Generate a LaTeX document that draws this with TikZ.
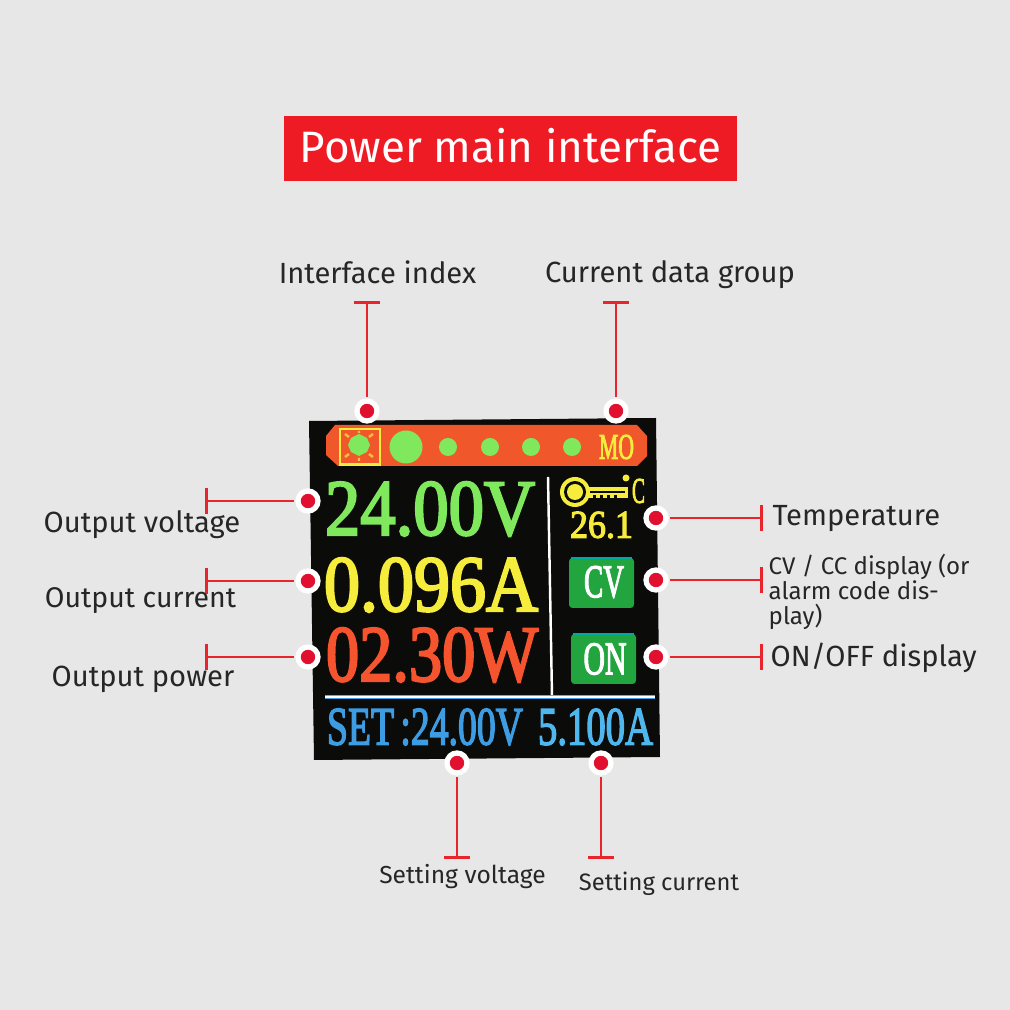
\documentclass[tikz,border=0pt]{standalone}
\usepackage{fontspec}
\usepackage{graphicx}
\setmainfont{Fira Sans}
\newfontfamily\lcdfont{Liberation Serif}[FakeBold=3]
\definecolor{pagegray}{HTML}{E6E7E6}
\definecolor{titlered}{HTML}{EE1B24}
\definecolor{dotred}{HTML}{E0102E}
\definecolor{linered}{HTML}{E8252C}
\definecolor{lcdblack}{HTML}{0B0B09}
\definecolor{barorange}{HTML}{F0582C}
\definecolor{lcdgreen}{HTML}{80E85C}
\definecolor{lcdyellow}{HTML}{F6EC3C}
\definecolor{lcdred}{HTML}{F5542E}
\definecolor{lcdblue}{HTML}{3E9CE2}
\definecolor{lcdsky}{HTML}{50B6EE}
\definecolor{btngreen}{HTML}{22A53E}
\newcommand{\lcd}[3]{\resizebox{#1cm}{#2cm}{\lcdfont #3}}
\tikzset{
  dot/.style={circle,fill=dotred,draw=white,line width=1.5pt,minimum size=0.2cm,inner sep=0pt},
  lead/.style={linered,line width=0.8pt,-|,shorten <=0.5pt},
  lbl/.style={inner sep=0pt,text=black!85,font=\fontsize{8.3}{8.3}\selectfont},
  lcdtxt/.style={inner sep=0pt}
}
\begin{document}
\begin{tikzpicture}
\useasboundingbox (0,0) rectangle (10.1,10.1);
\fill[pagegray] (0,0) rectangle (10.1,10.1);
% Titel
\fill[titlered] (2.84,8.29) rectangle (7.37,8.94);
\node (title) at (5.105,8.64) [inner sep=0pt,text=white,font=\fontsize{12.5}{14}\selectfont] {Power main interface};
% Bildschirm
\fill[lcdblack] (3.09,5.89) -- (6.56,5.92) -- (6.60,2.53) -- (3.14,2.50) -- cycle;
% Kopfleiste
\fill[barorange] (3.26,5.74) -- (3.35,5.85) -- (6.37,5.85) -- (6.47,5.74) -- (6.47,5.54) -- (6.37,5.44) -- (3.38,5.44) -- (3.26,5.55) -- cycle;
\fill[lcdyellow] (3.39,5.82) rectangle (3.81,5.44);
\fill[barorange] (3.41,5.80) rectangle (3.79,5.47);
\fill[lcdgreen] (3.59,5.76) -- (3.67,5.72) -- (3.70,5.65) -- (3.67,5.58) -- (3.59,5.54) -- (3.51,5.58) -- (3.48,5.65) -- (3.51,5.72) -- cycle;
\draw[lcdyellow!70!barorange,line width=0.7pt] (3.59,5.79) -- (3.59,5.77) (3.59,5.52) -- (3.59,5.49) (3.45,5.76) -- (3.49,5.73) (3.73,5.76) -- (3.69,5.73) (3.45,5.53) -- (3.49,5.56) (3.73,5.53) -- (3.69,5.56);
\fill[lcdgreen] (4.06,5.63) circle (0.165);
\foreach \x in {4.48,4.90,5.31,5.72}
  \fill[lcdgreen] (\x,5.63) circle (0.09);
\node (mo) at (6.165,5.63) [lcdtxt,text=lcdyellow] {\lcd{0.35}{0.24}{MO}};
% Messwerte
\node (volt) at (4.30,5.01) [lcdtxt,text=lcdgreen] {\lcd{2.10}{0.53}{24.00V}};
\node (amp) at (4.31,4.25) [lcdtxt,text=lcdyellow] {\lcd{2.14}{0.53}{0.096A}};
\node (watt) at (4.32,3.55) [lcdtxt,text=lcdred] {\lcd{2.12}{0.53}{02.30W}};
\node (setv) at (4.25,2.83) [lcdtxt,text=lcdblue] {\lcd{1.96}{0.36}{SET\,:24.00V}};
\node (seta) at (5.955,2.83) [lcdtxt,text=lcdsky] {\lcd{1.15}{0.36}{5.100A}};
% Trennlinien
\draw[white,line width=0.7pt] (5.48,5.33) -- (5.52,3.14);
\draw[orange,line width=0.3pt] (3.25,3.145) -- (6.55,3.145);
\draw[lcdblue,line width=0.3pt] (3.25,3.115) -- (6.55,3.115);
\draw[white,line width=0.45pt] (3.25,3.13) -- (6.55,3.13);
% Thermometer
\fill[lcdyellow] (5.75,5.18) circle (0.15);
\fill[lcdyellow] (5.85,5.12) rectangle (6.28,5.23);
\fill[lcdblack] (5.90,5.17) rectangle (6.25,5.19);
\fill[lcdblack] (5.75,5.18) circle (0.11);
\fill[lcdyellow] (5.75,5.18) circle (0.08);
\foreach \x in {5.93,6.00,6.07,6.14}
  \fill[lcdblack] (\x,5.12) rectangle ++(0.03,0.03);
\fill[lcdyellow] (6.26,5.32) circle (0.035);
\node (celsius) at (6.385,5.19) [lcdtxt,text=lcdyellow] {\lcd{0.13}{0.24}{C}};
\node (temp) at (6.015,4.85) [lcdtxt,text=lcdyellow] {\lcd{0.63}{0.26}{26.1}};
% Schaltflaechen
\fill[btngreen,rounded corners=1pt] (5.69,4.52) rectangle (6.34,4.02);
\draw[cyan!50!green,line width=0.4pt] (5.71,4.52) -- (6.32,4.52);
\node (cv) at (6.04,4.28) [lcdtxt,text=white] {\lcd{0.40}{0.31}{CV}};
\fill[btngreen,rounded corners=1pt] (5.71,3.76) rectangle (6.36,3.26);
\draw[cyan!50!green,line width=0.4pt] (5.73,3.76) -- (6.34,3.76);
\node (on) at (6.05,3.51) [lcdtxt,text=white] {\lcd{0.43}{0.31}{ON}};
% Punkte
\node[dot] (dotindex) at (3.67,5.99) {};
\node[dot] (dotgroup) at (6.16,5.99) {};
\node[dot] (dotvolt) at (3.08,5.09) {};
\node[dot] (dotamp) at (3.08,4.29) {};
\node[dot] (dotwatt) at (3.08,3.53) {};
\node[dot] (dottemp) at (6.56,4.92) {};
\node[dot] (dotcv) at (6.56,4.30) {};
\node[dot] (doton) at (6.56,3.53) {};
\node[dot] (dotsetv) at (4.57,2.47) {};
\node[dot] (dotseta) at (6.01,2.47) {};
% Enden der Linien
\coordinate (endindex) at (3.67,7.09);
\coordinate (endgroup) at (6.16,7.09);
\coordinate (endvolt) at (2.05,5.09);
\coordinate (endamp) at (2.05,4.29);
\coordinate (endwatt) at (2.05,3.53);
\coordinate (endtemp) at (7.63,4.92);
\coordinate (endcv) at (7.63,4.30);
\coordinate (endon) at (7.63,3.53);
\coordinate (endsetv) at (4.57,1.51);
\coordinate (endseta) at (6.01,1.51);
\foreach \a in {index,group,volt,amp,watt,temp,cv,on,setv,seta}
  \draw[lead] (dot\a) -- (end\a);
% Beschriftung
\node[lbl] (lblindex) at (3.775,7.38) {Interface index};
\node[lbl] (lblgroup) at (6.70,7.35) {Current data group};
\node[lbl] (lblvolt) at (1.42,4.85) {Output voltage};
\node[lbl,font=\fontsize{8.1}{8.1}\selectfont] (lblamp) at (1.405,4.09) {Output current};
\node[lbl] (lblwatt) at (1.43,3.31) {Output power};
\node[lbl,anchor=west] (lbltemp) at (7.72,4.91) {Temperature};
\node[lbl,anchor=north west,align=left,font=\fontsize{6.85}{7.2}\selectfont] (lblcv) at (7.68,4.57) {CV / CC display (or\\alarm code dis-\\play)};
\node[lbl,anchor=west] (lblon) at (7.70,3.52) {ON/OFF display};
\node[lbl,font=\fontsize{7}{7}\selectfont] (lblsetv) at (4.625,1.33) {Setting voltage};
\node[lbl,font=\fontsize{6.75}{7}\selectfont] (lblseta) at (6.59,1.26) {Setting current};
\end{tikzpicture}
\end{document}
